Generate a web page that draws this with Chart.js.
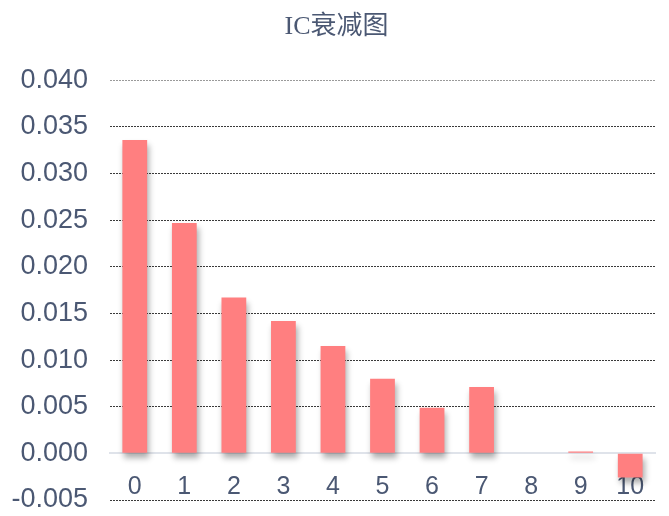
<!DOCTYPE html>
<html>
<head>
<meta charset="utf-8">
<script src="https://cdn.jsdelivr.net/npm/chart.js@4/dist/chart.umd.min.js"></script>
<style>
html,body{margin:0;padding:0;background:#fff;}
#wrap{width:669px;height:516px;}
</style>
</head>
<body>
<div id="wrap"><canvas id="c" width="669" height="516"></canvas></div>
<script>
const categories = ['0','1','2','3','4','5','6','7','8','9','10'];
const icValues = [0.0336, 0.0247, 0.0167, 0.0142, 0.0115, 0.0080, 0.0049, 0.0071, 0.0, 0.0002, -0.0026];
const titleText = 'IC衰减图';
const yMin = -0.005, yMax = 0.040, yStep = 0.005;

const textColor = '#4b5873';

const shadowPlugin = {
  id: 'barShadow',
  afterLayout(chart) {
    const t = chart.titleBlock;
    if (t) { t.left += 6; t.right += 6; }
  },
  beforeDatasetsDraw(chart) {
    const c = chart.ctx;
    c.save();
    c.shadowColor = 'rgba(0,0,0,0.32)';
    c.shadowBlur = 6;
    c.shadowOffsetX = 2;
    c.shadowOffsetY = 5;
  },
  afterDatasetsDraw(chart) {
    chart.ctx.restore();
  }
};

new Chart(document.getElementById('c'), {
  type: 'bar',
  data: {
    labels: categories,
    datasets: [{
      data: icValues,
      backgroundColor: '#ff7f80',
      borderWidth: 0,
      barPercentage: 0.5,
      categoryPercentage: 1.0
    }]
  },
  plugins: [shadowPlugin],
  options: {
    responsive: false,
    animation: false,
    layout: { padding: { left: 6, right: 14, top: 0, bottom: 16 } },
    plugins: {
      legend: { display: false },
      tooltip: { enabled: false },
      title: {
        display: true,
        text: titleText,
        color: textColor,
        font: { family: '"Liberation Serif","Noto Sans CJK SC",serif', size: 26, weight: 'normal' },
        padding: { top: 12, bottom: 37 }
      }
    },
    scales: {
      y: {
        min: yMin,
        max: yMax,
        afterFit: s => { s.width = 104; s.paddingTop = 0; s.paddingBottom = 0; },
        ticks: {
          stepSize: yStep,
          color: textColor,
          padding: 22,
          font: { family: '"Liberation Sans",Arial,sans-serif', size: 27 },
          callback: v => Number(v).toFixed(3)
        },
        grid: {
          drawTicks: false,
          lineWidth: 1,
          color: ctx => (ctx.tick && ctx.tick.value > 0.0395) ? '#9a9a9a' : '#3a3a3a'
        },
        border: { display: false, dash: [2, 1] }
      },
      x: {
        position: { y: 0 },
        afterFit: s => { s.height = 0; s.paddingTop = 0; s.paddingBottom = 0; s.paddingLeft = 0; s.paddingRight = 0; },
        grid: { display: false, drawTicks: false },
        border: { display: true, color: '#dfe3ea', width: 2 },
        ticks: {
          color: textColor,
          padding: 19,
          font: { family: '"Liberation Sans",Arial,sans-serif', size: 25 }
        }
      }
    }
  }
});
</script>
</body>
</html>
